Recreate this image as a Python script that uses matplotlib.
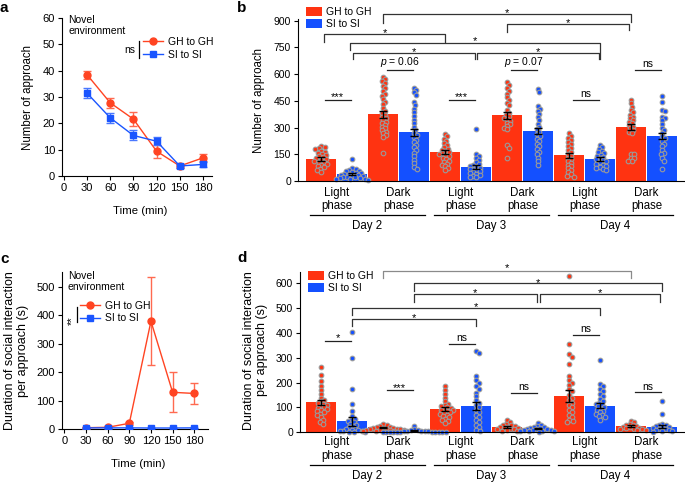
import numpy as np
import matplotlib
matplotlib.use("Agg")
import matplotlib.pyplot as plt
from matplotlib.lines import Line2D
from matplotlib.patches import Patch

plt.rcParams['font.family'] = ['Liberation Sans', 'DejaVu Sans']
plt.rcParams['mathtext.fontset'] = 'custom'
plt.rcParams['mathtext.it'] = 'Liberation Sans:italic'
plt.rcParams['mathtext.rm'] = 'Liberation Sans'

RED = '#ff3311'
BLUE = '#1450ff'
LRED = '#ff4422'
LBLUE = '#1a55ff'
EDGE = '#9a9a9a'

# ---------------- data ----------------
time_min = [30, 60, 90, 120, 150, 180]
a_gh = [38.5, 27.8, 21.6, 9.4, 3.8, 6.9]
a_gh_err = [1.5, 1.9, 2.7, 2.5, 0.8, 1.3]
a_si = [31.5, 22.1, 15.4, 13.2, 3.8, 4.4]
a_si_err = [2.0, 1.8, 1.9, 1.6, 0.8, 1.0]

c_gh = [4.5, 6, 20, 379, 129, 125]
c_gh_err = [2, 3, 6, 155, 70, 37]
c_si = [4, 4, 4, 3.5, 3.5, 4]
c_si_err = [1, 1, 1, 1, 1, 1]

phase_labels = ['Light\nphase', 'Dark\nphase'] * 3
day_labels = ['Day 2', 'Day 3', 'Day 4']

b_gh_mean = [123, 374, 163, 369, 144, 303]
b_gh_sem = [12, 18, 12, 18, 15, 15]
b_si_mean = [39, 273, 80, 281, 123, 253]
b_si_sem = [8, 20, 12, 18, 10, 18]

b_gh_pts = [
    [196, 190, 183, 178, 170, 165, 159, 152, 146, 140, 133, 128, 124, 118, 112, 108, 103, 97, 90, 84, 77, 70, 62, 52],
    [585, 572, 560, 548, 535, 520, 505, 490, 478, 460, 446, 430, 410, 395, 381, 370, 362, 352, 343, 333, 325, 315, 306, 296, 287, 278, 268, 258, 246, 157],
    [265, 250, 238, 225, 212, 200, 190, 182, 175, 168, 162, 156, 150, 144, 138, 130, 122, 114, 106, 98, 90, 82, 72, 62],
    [555, 540, 522, 506, 490, 470, 455, 440, 425, 400, 384, 372, 365, 356, 347, 338, 328, 318, 309, 300, 290, 200, 184, 131],
    [270, 255, 242, 230, 220, 208, 196, 185, 174, 163, 152, 142, 132, 122, 112, 102, 92, 82, 72, 60, 48, 38, 30, 24],
    [455, 436, 418, 400, 385, 372, 362, 352, 343, 334, 324, 315, 306, 296, 287, 278, 268, 150, 150, 130, 130, 112, 112],
]
b_si_pts = [
    [122, 72, 68, 62, 58, 55, 50, 47, 44, 41, 38, 36, 33, 30, 28, 25, 22, 20, 18, 16, 14, 12, 10, 8],
    [525, 512, 498, 485, 446, 428, 405, 385, 365, 345, 325, 305, 288, 270, 258, 245, 232, 218, 205, 190, 175, 160, 140, 120, 100, 80, 70],
    [292, 150, 142, 130, 118, 105, 98, 92, 86, 80, 75, 70, 65, 60, 55, 50, 45, 40, 35, 30, 25, 20],
    [515, 498, 420, 406, 392, 375, 358, 340, 322, 305, 290, 275, 262, 250, 238, 225, 210, 195, 180, 165, 150, 130, 110, 90],
    [205, 192, 180, 170, 162, 155, 148, 142, 135, 128, 122, 116, 110, 104, 98, 92, 86, 80, 74, 68, 62],
    [480, 445, 400, 395, 360, 355, 340, 320, 300, 285, 270, 250, 240, 225, 210, 195, 175, 160, 150, 130, 115, 65],
]

d_gh_mean = [121, 20, 94, 23, 146, 25]
d_gh_sem = [11, 3, 8, 4, 23, 3]
d_si_mean = [45, 8, 106, 16, 107, 23]
d_si_sem = [18, 2, 15, 3, 10, 5]

d_gh_pts = [
    [265, 230, 205, 186, 170, 155, 140, 132, 126, 120, 115, 110, 105, 100, 96, 92, 88, 84, 80, 75, 70, 62, 50, 40, 33],
    [32, 28, 25, 22, 20, 18, 17, 16, 15, 14, 13, 12, 11, 10, 9, 8, 7, 6, 5, 4],
    [185, 170, 155, 140, 125, 116, 110, 105, 100, 97, 94, 91, 88, 85, 82, 78, 74, 70, 65, 60, 55, 50, 45, 38],
    [50, 40, 35, 30, 28, 25, 22, 20, 18, 16, 15, 14, 12, 10, 8, 6, 5],
    [630, 355, 315, 305, 275, 225, 210, 200, 190, 175, 165, 150, 140, 130, 120, 110, 100, 90, 80, 70, 60, 50, 45, 40],
    [47, 40, 35, 30, 28, 25, 22, 20, 18, 16, 15, 14, 12, 10, 8],
]
d_si_pts = [
    [405, 300, 175, 115, 85, 65, 55, 50, 45, 40, 35, 30, 25, 20, 15, 12, 10, 8, 6, 5, 4, 3, 2, 1],
    [27, 12, 10, 8, 7, 6, 5, 4, 4, 3, 3, 2, 2, 2, 1, 1, 1, 0.5, 0.5, 0],
    [328, 318, 225, 210, 200, 185, 175, 160, 145, 130, 120, 110, 100, 90, 80, 70, 60, 50, 40, 30, 20, 10, 5],
    [38, 30, 25, 22, 20, 18, 16, 15, 14, 12, 10, 9, 8, 7, 6, 5, 4, 3],
    [290, 195, 185, 175, 165, 155, 145, 135, 125, 120, 115, 110, 105, 100, 95, 90, 85, 80, 75, 70, 65, 60, 50],
    [125, 72, 35, 30, 28, 25, 22, 20, 18, 15, 12, 10, 8, 6, 5, 3],
]

# ---------------- figure helpers ----------------
W, H = 685, 483
fig = plt.figure(figsize=(W / 100, H / 100), dpi=100)


def ax_px(l, t, r, b):
    return fig.add_axes([l / W, 1 - b / H, (r - l) / W, (b - t) / H])


def style(ax, fs=8):
    for s in ['top', 'right']:
        ax.spines[s].set_visible(False)
    for s in ['left', 'bottom']:
        ax.spines[s].set_linewidth(0.8)
    ax.tick_params(direction='out', length=3, width=0.8, labelsize=fs, pad=2)


def swarm(vals, ppu, diam):
    placed = []
    offs = []
    for v in vals:
        y = v * ppu
        best = None
        k = 0
        while best is None:
            cands = [0.0] if k == 0 else [k * 0.5, -k * 0.5]
            for s in cands:
                if all((s - px) ** 2 + (y - py) ** 2 >= diam ** 2 for px, py in placed):
                    best = s
                    break
            k += 1
        placed.append((best, y))
        offs.append(best)
    return np.array(offs)


def line_panel(ax, gh, gh_err, si, si_err, xl, yl, yticks, ylabel, lab_x, leg_xy, nov_y):
    style(ax, 8)
    ax.errorbar(time_min, gh, yerr=gh_err, color=LRED, marker='o', ms=5, lw=1,
                elinewidth=1, capsize=3, capthick=1, ecolor='#ff6a50', zorder=3)
    ax.errorbar(time_min, si, yerr=si_err, color=LBLUE, marker='s', ms=4.2, lw=1,
                elinewidth=1, capsize=3, capthick=1, ecolor='#4a78ff', zorder=4)
    ax.set_xlim(*xl)
    ax.set_ylim(*yl)
    ax.set_xticks([0] + time_min)
    ax.set_yticks(yticks)
    ax.set_xlabel('Time (min)', fontsize=8.2)
    ax.xaxis.set_label_coords(0.52, -0.19)
    ax.set_ylabel(ylabel, fontsize=lab_x[2], linespacing=1.15)
    ax.yaxis.set_label_coords(lab_x[0], lab_x[1])
    handles = [Line2D([], [], color=LRED, marker='o', ms=5, lw=1),
               Line2D([], [], color=LBLUE, marker='s', ms=4.2, lw=1)]
    ax.legend(handles, ['GH to GH', 'SI to SI'], loc='upper left', bbox_to_anchor=leg_xy,
              frameon=False, fontsize=7.5, handlelength=1.9, handletextpad=0.5,
              labelspacing=0.25, borderpad=0, borderaxespad=0)
    ax.text(0.04, nov_y, 'Novel\nenvironment', transform=ax.transAxes,
            ha='left', va='top', fontsize=7.5, linespacing=1.15)


# ---------------- panel a ----------------
axa = ax_px(62, 18, 212, 176)
line_panel(axa, a_gh, a_gh_err, a_si, a_si_err, (-2.3, 191.6), (0, 60), range(0, 61, 10),
           'Number of approach', (-0.19, 0.5, 8.3), (0.54, 0.88), 1.02)
axa.text(0.453, 0.80, 'ns', transform=axa.transAxes, ha='center', va='center', fontsize=7.5)
axa.plot([0.513, 0.513], [0.75, 0.855], transform=axa.transAxes, color='k', lw=0.9, clip_on=False)

# ---------------- panel c ----------------
axc = ax_px(62, 272, 208, 429)
line_panel(axc, c_gh, c_gh_err, c_si, c_si_err, (-3.2, 199), (0, 552), range(0, 501, 100),
           'Duration of social interaction\nper approach (s)', (-0.225, 0.5, 9), (0.123, 0.818), 1.005)
axc.text(0.07, 0.69, '**', transform=axc.transAxes, ha='center', va='center', fontsize=8, rotation=90)
axc.plot([0.103, 0.103], [0.68, 0.78], transform=axc.transAxes, color='k', lw=0.9, clip_on=False)

# ---------------- bar panels ----------------
groups = np.arange(6)
OFF = 0.25
BW = 0.47
PITCH = 62.0


def xpos(g, side):
    return g + (-OFF if side == 'gh' else OFF)


def bar_panel(ax, gh_m, gh_s, si_m, si_s, gh_pts, si_pts, ylim, yticks, ppu,
              ylabel, ylab_xy, ylab_fs, leg_y, day_y, tick_pad):
    style(ax, 7.5)
    ax.bar(groups - OFF, gh_m, width=BW, color=RED, edgecolor='none', zorder=1)
    ax.bar(groups + OFF, si_m, width=BW, color=BLUE, edgecolor='none', zorder=1)
    for g in groups:
        for pts, side, col in ((gh_pts[g], 'gh', RED), (si_pts[g], 'si', BLUE)):
            offs = swarm(pts, ppu, 3.3) / PITCH
            ax.scatter(xpos(g, side) + offs, pts, s=11, facecolor=col, edgecolor=EDGE,
                       linewidth=0.8, zorder=2, clip_on=False)
    ax.errorbar(groups - OFF, gh_m, yerr=gh_s, fmt='none', ecolor='k', elinewidth=1,
                capsize=3, capthick=1, zorder=3)
    ax.errorbar(groups + OFF, si_m, yerr=si_s, fmt='none', ecolor='k', elinewidth=1,
                capsize=3, capthick=1, zorder=3)
    ax.set_ylim(*ylim)
    ax.set_yticks(yticks)
    ax.set_xticks(groups)
    ax.set_xticklabels(phase_labels, fontsize=8.3, linespacing=1.2)
    ax.tick_params(axis='x', length=0, pad=tick_pad)
    ax.set_ylabel(ylabel, fontsize=ylab_fs, linespacing=1.15)
    ax.yaxis.set_label_coords(*ylab_xy)
    tr = ax.get_xaxis_transform()
    for k in range(3):
        ax.plot([2 * k - 0.43, 2 * k + 1.43], [day_y[0], day_y[0]], transform=tr,
                color='k', lw=0.9, clip_on=False)
        ax.text(2 * k + 0.5, day_y[1], day_labels[k], transform=tr, ha='center',
                va='center', fontsize=8.3)
    handles = [Patch(facecolor=RED, edgecolor='none'), Patch(facecolor=BLUE, edgecolor='none')]
    ax.legend(handles, ['GH to GH', 'SI to SI'], loc='upper left', bbox_to_anchor=(0.022, leg_y),
              frameon=False, fontsize=7.5, handlelength=1.45, handleheight=0.95,
              handletextpad=0.4, labelspacing=0.2, borderpad=0, borderaxespad=0)


def bracket(ax, a, b, y, dl, dr, ystar, color='#333333', da=0.0, db=0.0):
    x1 = xpos(*a) + da
    x2 = xpos(*b) + db
    ax.plot([x1, x1, x2, x2], [dl, y, y, dr], color=color, lw=0.9, clip_on=False, zorder=5)
    ax.annotate('*', xy=((x1 + x2) / 2, ystar), xytext=(0, -4.5), textcoords='offset points',
                ha='center', va='baseline', fontsize=8, annotation_clip=False)


def within(ax, g, y, label, star=False):
    x1, x2 = g - 0.19, g + 0.23
    ax.plot([x1, x2], [y, y], color='#222222', lw=0.9, clip_on=False, zorder=5)
    if star:
        ax.annotate(label, xy=((x1 + x2) / 2, y), xytext=(0, -0.5), textcoords='offset points',
                    ha='center', va='baseline', fontsize=8, annotation_clip=False)
    else:
        ax.annotate(label, xy=((x1 + x2) / 2, y), xytext=(0, 0.5), textcoords='offset points',
                    ha='center', va='bottom', fontsize=7.5, annotation_clip=False)


# ---------------- panel b ----------------
axb = ax_px(298, 19, 684, 181)
axb.set_xlim(-0.621, 5.605)
bar_panel(axb, b_gh_mean, b_gh_sem, b_si_mean, b_si_sem, b_gh_pts, b_si_pts,
          (0, 910), range(0, 901, 150), 162 / 910, 'Number of approach', (-0.085, 0.5), 8.3,
          1.076, (-0.212, -0.28), 4)
bracket(axb, (1, 'gh'), (5, 'gh'), 938, 889, 894, 964)
bracket(axb, (3, 'gh'), (5, 'gh'), 881, 838, 848, 908, db=-0.04)
bracket(axb, (0, 'gh'), (2, 'gh'), 824, 782, 782, 848, da=0.05)
bracket(axb, (0, 'si'), (4, 'si'), 777, 736, 683, 807, da=-0.03)
bracket(axb, (0, 'si'), (2, 'si'), 720, 685, 685, 745, da=0.02, db=-0.02)
bracket(axb, (2, 'si'), (4, 'si'), 720, 685, 685, 745, da=0.02, db=-0.02)
within(axb, 0, 457, '***', True)
within(axb, 1, 623, '$\\it{p}$ = 0.06')
within(axb, 2, 457, '***', True)
within(axb, 3, 623, '$\\it{p}$ = 0.07')
within(axb, 4, 457, 'ns')
within(axb, 5, 623, 'ns')

# ---------------- panel d ----------------
axd = ax_px(300, 271.7, 685, 432.3)
axd.set_xlim(-0.589, 5.62)
bar_panel(axd, d_gh_mean, d_gh_sem, d_si_mean, d_si_sem, d_gh_pts, d_si_pts,
          (0, 647), range(0, 601, 100), 160.6 / 647,
          'Duration of social interaction\nper approach (s)', (-0.083, 0.51), 9,
          1.003, (-0.2055, -0.274), 2.5)
bracket(axd, (1, 'gh'), (5, 'gh'), 651, 620, 620, 674, color='#8a8a8a')
bracket(axd, (1, 'si'), (5, 'si'), 600, 570, 570, 616)
bracket(axd, (1, 'si'), (3, 'si'), 557, 526, 526, 573, db=-0.02)
bracket(axd, (3, 'si'), (5, 'si'), 557, 526, 526, 573, da=0.03, db=-0.04)
bracket(axd, (0, 'si'), (4, 'si'), 499, 472, 472, 517)
bracket(axd, (0, 'si'), (2, 'si'), 456, 428, 428, 472)
within(axd, 0, 369, '*', True)
within(axd, 1, 170, '***', True)
within(axd, 2, 356, 'ns')
within(axd, 3, 160, 'ns')
within(axd, 4, 392, 'ns')
within(axd, 5, 161, 'ns')

# ---------------- panel letters ----------------
for lab, x, yb in (('a', 0, 12), ('b', 237, 12), ('c', 0, 263), ('d', 237, 262)):
    fig.text(x / W, 1 - yb / H, lab, fontsize=11, fontweight='bold', ha='left', va='baseline')

fig.savefig('out.png', dpi=100)
